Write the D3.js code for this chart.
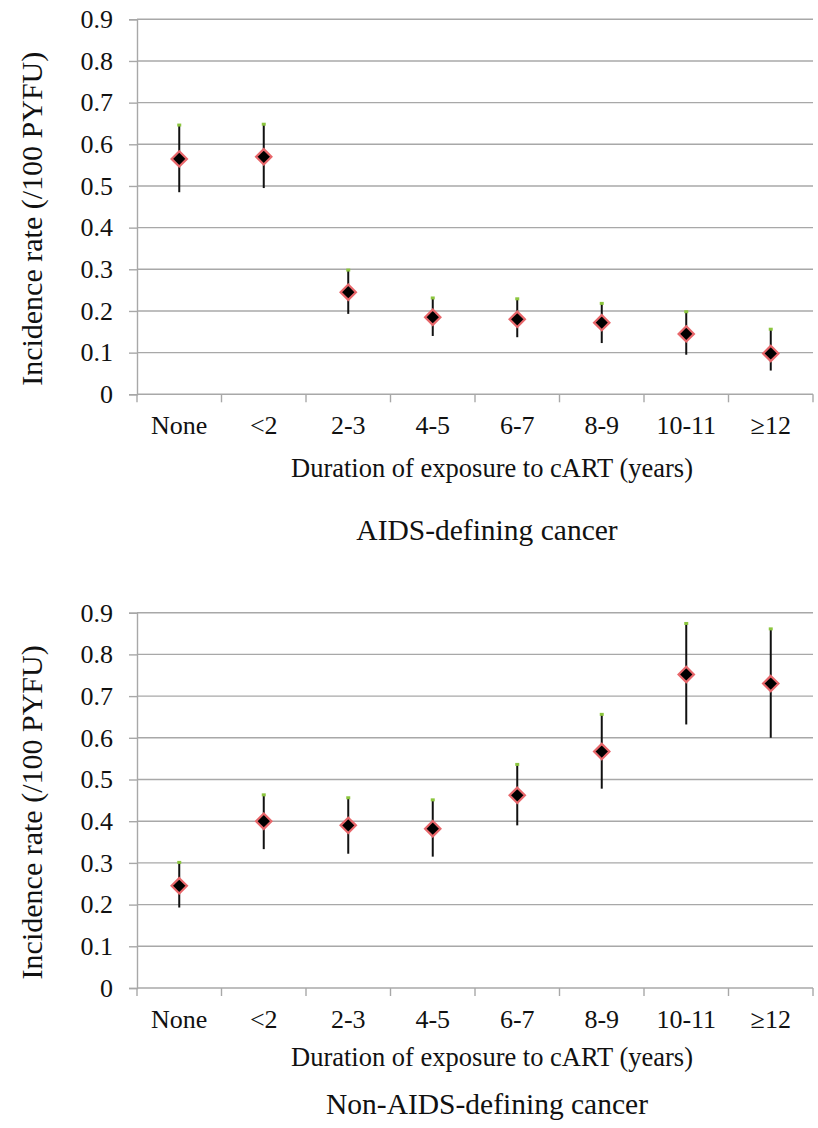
<!DOCTYPE html>
<meta charset="utf-8">
<script src="https://d3js.org/d3.v7.min.js"></script>
<style>
  body { margin: 0; background: #fff; }
  svg text { font-family: "Liberation Serif", Tinos, "Times New Roman", "DejaVu Serif", serif; fill: #111; }
</style>
<div id="chart"></div>
<script>

// categories and tick values
var categories = ["None", "<2", "2-3", "4-5", "6-7", "8-9", "10-11", "\u226512"];
var yTicks = [0, 0.1, 0.2, 0.3, 0.4, 0.5, 0.6, 0.7, 0.8, 0.9];

// AIDS-defining cancer: rate and 95% CI
var aidsRate = [0.565, 0.570, 0.245, 0.185, 0.180, 0.172, 0.145, 0.098];
var aidsLow  = [0.485, 0.495, 0.193, 0.140, 0.137, 0.123, 0.095, 0.057];
var aidsHigh = [0.645, 0.647, 0.297, 0.230, 0.228, 0.217, 0.197, 0.155];

// Non-AIDS-defining cancer
var nonRate = [0.245, 0.400, 0.390, 0.382, 0.462, 0.567, 0.752, 0.730];
var nonLow  = [0.193, 0.333, 0.322, 0.315, 0.390, 0.478, 0.632, 0.600];
var nonHigh = [0.300, 0.462, 0.455, 0.450, 0.535, 0.655, 0.873, 0.860];

var W = 818, H = 1128;
var serif = "'Liberation Serif', Tinos, 'Times New Roman', 'DejaVu Serif', serif";

var svg = d3.select("#chart")
  .append("svg")
    .attr("width", W)
    .attr("height", H)
    .attr("font-family", serif);

svg.append("rect").attr("width", W).attr("height", H).attr("fill", "#fff");

var x = d3.scaleBand()
  .domain(categories)
  .range([137, 813]);

function panel(top, bottom, rate, low, high, title, durGap, titleGap) {
  var y = d3.scaleLinear()
    .domain([0, 0.9])
    .range([bottom, top]);

  var g = svg.append("g");

  // gridlines
  g.selectAll(".grid")
    .data(yTicks.slice(1))
    .enter()
    .append("line")
      .attr("x1", 137)
      .attr("x2", 813)
      .attr("y1", function(d) { return y(d); })
      .attr("y2", function(d) { return y(d); })
      .attr("stroke", "#a8a8a8")
      .attr("stroke-width", 1.4);

  // y axis
  var yAxis = g.append("g")
    .attr("transform", "translate(137,0)")
    .call(d3.axisLeft(y).tickValues(yTicks).tickSize(8).tickPadding(16)
      .tickFormat(function(d) { return d === 0 ? "0" : d3.format(".1f")(d); }));
  yAxis.attr("font-family", serif);
  yAxis.select(".domain").attr("stroke", "#a8a8a8").attr("stroke-width", 1.4);
  yAxis.selectAll(".tick line").attr("stroke", "#a8a8a8").attr("stroke-width", 1.4);
  yAxis.selectAll(".tick text")
    .style("font-family", serif)
    .style("font-size", "26px")
    .attr("fill", "#111");

  // x axis (ticks on category boundaries)
  var xAxis = g.append("g")
    .attr("transform", "translate(0," + bottom + ")");
  xAxis.append("line")
    .attr("x1", 137).attr("x2", 813)
    .attr("stroke", "#a8a8a8").attr("stroke-width", 1.4);
  var bounds = categories.map(function(c) { return x(c); }).concat([x.range()[1]]);
  xAxis.selectAll(".xt")
    .data(bounds)
    .enter()
    .append("line")
      .attr("x1", function(d) { return d; })
      .attr("x2", function(d) { return d; })
      .attr("y1", 0)
      .attr("y2", 8)
      .attr("stroke", "#a8a8a8")
      .attr("stroke-width", 1.4);
  xAxis.selectAll(".xl")
    .data(categories)
    .enter()
    .append("text")
      .attr("x", function(d) { return x(d) + x.bandwidth() / 2; })
      .attr("y", 40)
      .attr("text-anchor", "middle")
      .style("font-size", "26px")
      .text(function(d) { return d; });

  // error bars
  var pts = categories.map(function(c, i) {
    return { c: c, v: rate[i], lo: low[i], hi: high[i] };
  });
  g.selectAll(".err")
    .data(pts)
    .enter()
    .append("line")
      .attr("x1", function(d) { return x(d.c) + x.bandwidth() / 2; })
      .attr("x2", function(d) { return x(d.c) + x.bandwidth() / 2; })
      .attr("y1", function(d) { return y(d.lo); })
      .attr("y2", function(d) { return y(d.hi); })
      .attr("stroke", "#111")
      .attr("stroke-width", 2);
  g.selectAll(".cap")
    .data(pts)
    .enter()
    .append("rect")
      .attr("x", function(d) { return x(d.c) + x.bandwidth() / 2 - 2; })
      .attr("y", function(d) { return y(d.hi) - 2; })
      .attr("width", 4)
      .attr("height", 3)
      .attr("fill", "#8cc63f");

  // diamond markers
  g.selectAll(".pt")
    .data(pts)
    .enter()
    .append("path")
      .attr("d", d3.symbol().type(d3.symbolDiamond2).size(150))
      .attr("transform", function(d) {
        return "translate(" + (x(d.c) + x.bandwidth() / 2) + "," + y(d.v) + ")";
      })
      .attr("fill", "#000")
      .attr("stroke", "#e8676b")
      .attr("stroke-width", 2.2);

  // axis titles
  g.append("text")
    .attr("transform", "translate(42," + ((top + bottom) / 2 + 12) + ") rotate(-90)")
    .attr("text-anchor", "middle")
    .style("font-size", "30px")
    .text("Incidence rate (/100 PYFU)");

  g.append("text")
    .attr("x", 492)
    .attr("y", bottom + durGap)
    .attr("text-anchor", "middle")
    .style("font-size", "26.5px")
    .text("Duration of exposure to cART (years)");

  g.append("text")
    .attr("x", 487)
    .attr("y", bottom + titleGap)
    .attr("text-anchor", "middle")
    .style("font-size", "29.5px")
    .text(title);
}

panel(19.3, 394.3, aidsRate, aidsLow, aidsHigh, "AIDS-defining cancer", 83, 146);
panel(612.7, 988, nonRate, nonLow, nonHigh, "Non-AIDS-defining cancer", 78, 126);

</script>
